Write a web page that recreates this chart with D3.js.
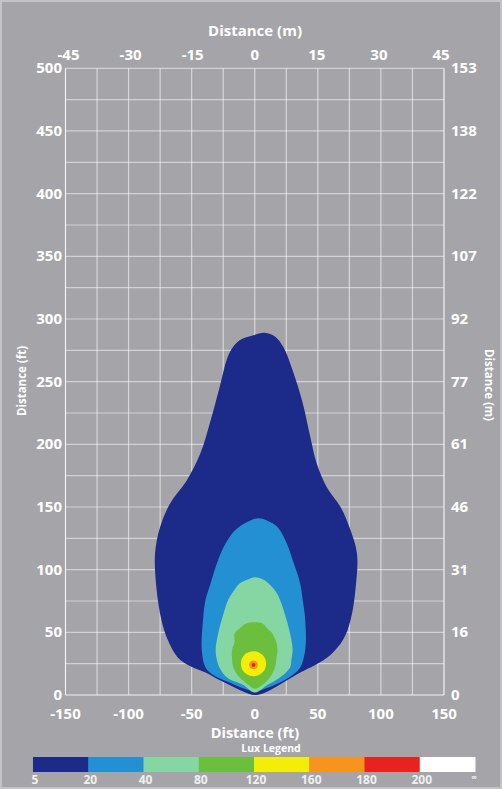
<!DOCTYPE html>
<html><head><meta charset="utf-8">
<script src="https://cdn.jsdelivr.net/npm/d3@7"></script>
<style>
body{margin:0;background:#a5a5a9;}
svg{display:block;}
text{font-family:"Open Sans",sans-serif;font-weight:700;fill:#ffffff;}
</style>
</head><body><svg id="c" width="502" height="789"></svg>
<script>
// ---- tick labels ----
const ftXTicks = [-150,-100,-50,0,50,100,150];
const ftYTicks = [0,50,100,150,200,250,300,350,400,450,500];
const mXTicks  = [-45,-30,-15,0,15,30,45];
const mYLabels = ["0","16","31","46","61","77","92","107","122","138","153"];
const gridStep = 25;

// ---- lux legend ----
const luxLabels = ["5","20","40","80","120","160","180","200"];
const luxColors = ["#1c2a8a","#2290d2","#86d6a4","#6cbf3c","#f2ee0a","#f7941d","#e8231f","#ffffff"];

// ---- isolux contours, points in feet [x, y] ----
const lux5 = [[-1,287],[8,289],[16,286],[23,277],[30,259],[38,233],[44,206],[49,185],[57,166],[68,150],[75,134],[81,113],[80,86],[76,60],[70,44],[60,32],[48,24],[36,18],[26,12],[16,6],[6,1],[0,0],[-5,1],[-16,6],[-28,12],[-39,18],[-51,23],[-61,30],[-69,44],[-74,60],[-78,86],[-79,113],[-75,134],[-67,153],[-54,171],[-43,193],[-35,219],[-28,245],[-20,273],[-12,283]];
const lux20 = [[-6,138],[3,141],[10,139],[18,134],[24,124],[30,108],[36,89],[38,76],[40,60],[40,36],[36,22],[30,16],[20,10],[8,5],[0,3],[-8,5],[-20,10],[-33,16],[-39,22],[-42,36],[-41,60],[-39,76],[-35,89],[-29,108],[-23,121],[-16,131]];
const lux40 = [[0,94],[7,92],[12,88],[17,82],[20,76],[24,64],[28,49],[30,36],[29,28],[28,22],[20,14],[10,8],[0,2],[-9,8],[-22,14],[-28,22],[-30,28],[-31,36],[-29,49],[-25,64],[-21,76],[-16,84],[-12,89],[-6,92]];
const lux80 = [[-1,58],[6,57],[10,53],[14,49],[17,42],[18,36],[17,28],[16,22],[12,14],[6,8],[0,5],[-5,8],[-12,14],[-17,22],[-18,29],[-18,36],[-16,42],[-16,49],[-12,53],[-7,57]];
// hot spot rings: level index, centre (ft), radius (ft)
const hotspots = [
  {level:4, x:-1, y:25, r:10},
  {level:5, x:-1, y:24, r:3.5},
  {level:6, x:-1, y:24, r:1.5}
];
const contours = [
  {level:0, pts:lux5},
  {level:1, pts:lux20},
  {level:2, pts:lux40},
  {level:3, pts:lux80}
];

const svg = d3.select("#c");
svg.append("rect").attr("width",502).attr("height",789).attr("fill","#a5a5a9");
svg.append("rect").attr("x",1).attr("y",1).attr("width",500).attr("height",787)
   .attr("fill","none").attr("stroke","#c4c4c8").attr("stroke-width",2);

const x = d3.scaleLinear().domain([-150,150]).range([65.5,444]);
const y = d3.scaleLinear().domain([0,500]).range([695,68.3]);
const xm = d3.scaleLinear().domain([-150*0.3048,150*0.3048]).range([65.5,444]);

// grid
const g = svg.append("g");
g.selectAll("line.v").data(d3.range(-150,151,gridStep)).join("line")
  .attr("x1",d=>x(d)).attr("x2",d=>x(d)).attr("y1",y(500)).attr("y2",y(0))
  .attr("stroke","#ffffff").attr("stroke-opacity",d=>Math.abs(d)===150?0.85:0.55).attr("stroke-width",1.2);
g.selectAll("line.h").data(d3.range(0,501,gridStep)).join("line")
  .attr("y1",d=>y(d)).attr("y2",d=>y(d)).attr("x1",x(-150)).attr("x2",x(150))
  .attr("stroke","#ffffff").attr("stroke-opacity",d=>d===0?0.85:0.5).attr("stroke-width",1.2);

// contours
const line = d3.line().x(d=>x(d[0])).y(d=>y(d[1])).curve(d3.curveCatmullRomClosed.alpha(0.5));
svg.selectAll("path.c").data(contours).join("path")
  .attr("d",d=>line(d.pts)).attr("fill",d=>luxColors[d.level]);
svg.selectAll("ellipse.h").data(hotspots).join("ellipse")
  .attr("cx",d=>x(d.x)).attr("cy",d=>y(d.y))
  .attr("rx",d=>x(d.r)-x(0)).attr("ry",d=>y(0)-y(d.r))
  .attr("fill",d=>luxColors[d.level]);

// top axis (m)
svg.append("text").attr("x",255).attr("y",36).attr("text-anchor","middle")
  .style("font-size","15px").text("Distance (m)");
svg.selectAll("text.tm").data(mXTicks).join("text")
  .attr("x",d=>xm(d)).attr("y",60).attr("text-anchor","middle")
  .style("font-size","15px").text(d=>d);
// left axis (ft)
svg.selectAll("text.lf").data(ftYTicks).join("text")
  .attr("x",62).attr("y",d=>y(d)+5).attr("text-anchor","end")
  .style("font-size","15px").text(d=>d);
// right axis (m)
svg.selectAll("text.rm").data(ftYTicks).join("text")
  .attr("x",451).attr("y",d=>y(d)+5).attr("text-anchor","start")
  .style("font-size","15px").text((d,i)=>mYLabels[i]);
// bottom axis (ft)
svg.selectAll("text.bf").data(ftXTicks).join("text")
  .attr("x",d=>x(d)).attr("y",719).attr("text-anchor","middle")
  .style("font-size","15px").text(d=>d);
svg.append("text").attr("x",255).attr("y",738).attr("text-anchor","middle")
  .style("font-size","14.5px").text("Distance (ft)");
// side titles
svg.append("text").attr("transform","translate(26,381) rotate(-90)").attr("text-anchor","middle")
  .style("font-size","11.5px").text("Distance (ft)");
svg.append("text").attr("transform","translate(485,385) rotate(90)").attr("text-anchor","middle")
  .style("font-size","11.5px").text("Distance (m)");

// legend
svg.append("text").attr("x",271).attr("y",752).attr("text-anchor","middle")
  .style("font-size","10.5px").text("Lux Legend");
const lx = d3.scaleLinear().domain([0,luxColors.length]).range([33,475]);
svg.selectAll("rect.lg").data(luxColors).join("rect")
  .attr("x",(d,i)=>lx(i)).attr("y",757).attr("width",(d,i)=>lx(i+1)-lx(i)+0.5).attr("height",15)
  .attr("fill",d=>d);
svg.selectAll("text.lg").data(luxLabels).join("text")
  .attr("x",(d,i)=>lx(i)+2).attr("y",784).attr("text-anchor","middle")
  .style("font-size","12px").style("fill","#f0f0f0").text(d=>d);
svg.append("text").attr("x",lx(luxColors.length)-1).attr("y",780).attr("text-anchor","middle")
  .style("font-size","8px").style("fill","#f0f0f0").text("∞");
</script>
</body></html>
